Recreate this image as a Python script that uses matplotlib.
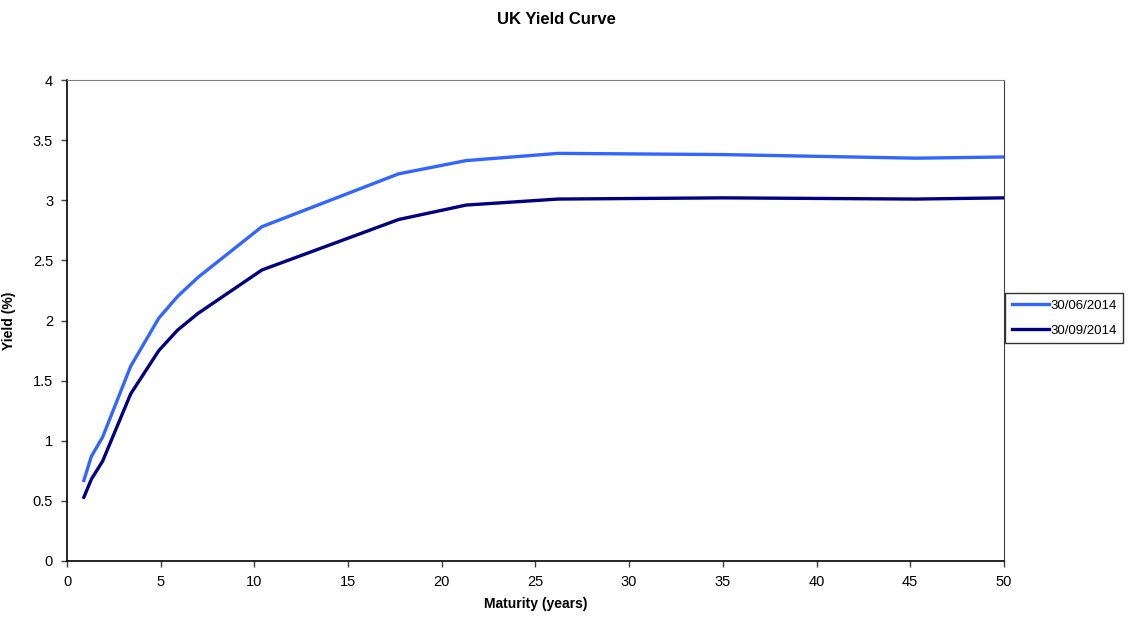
import matplotlib.pyplot as plt
import numpy as np

# UK gilt yield curve, two quarter-end snapshots
maturity_years = [0.9, 1.3, 1.9, 3.4, 4.9, 5.9, 7.0, 10.4, 17.7, 21.3, 26.2, 35.0, 45.3, 50.0]
yield_jun_2014 = [0.67, 0.87, 1.03, 1.62, 2.02, 2.20, 2.36, 2.78, 3.22, 3.33, 3.39, 3.38, 3.35, 3.36]
yield_sep_2014 = [0.53, 0.68, 0.83, 1.39, 1.75, 1.92, 2.06, 2.42, 2.84, 2.96, 3.01, 3.02, 3.01, 3.02]
series_labels = ['30/06/2014', '30/09/2014']

plt.rcParams['font.family'] = ['Liberation Sans', 'DejaVu Sans']

fig = plt.figure(figsize=(11.28, 6.17), dpi=100)
ax = fig.add_axes([0.0594, 0.0908, 0.8306, 0.7795])

ax.plot(maturity_years, yield_jun_2014, color='#3366FF', lw=2.4, label=series_labels[0])
ax.plot(maturity_years, yield_sep_2014, color='#000080', lw=2.4, label=series_labels[1])

ax.set_xlim(0, 50)
ax.set_ylim(0, 4)
ax.set_xticks(np.arange(0, 51, 5))
ax.set_yticks(np.arange(0, 4.01, 0.5))
ax.set_yticklabels(['0', '0.5', '1', '1.5', '2', '2.5', '3', '3.5', '4'])
ax.tick_params(direction='out', length=4, width=1, labelsize=10.5, color='#404040', pad=6)

for side in ['left', 'bottom']:
    ax.spines[side].set_color('black')
    ax.spines[side].set_linewidth(1.2)
ax.spines['top'].set_color('#808080')
ax.spines['right'].set_color('#404040')

fig.text(0.4935, 0.969, 'UK Yield Curve', fontsize=12, fontweight='bold', ha='center', va='center')
ax.set_xlabel('Maturity (years)', fontsize=10, fontweight='bold', labelpad=6)
ax.set_ylabel('Yield (%)', fontsize=10, fontweight='bold', labelpad=12)

leg = ax.legend(loc='center left', bbox_to_anchor=(1.0, 0.505), fontsize=9.5,
                frameon=True, fancybox=False, edgecolor='black', borderpad=0.5,
                handlelength=2.8, handletextpad=0.1, labelspacing=0.95, borderaxespad=0.1)
leg.get_frame().set_linewidth(1.0)

fig.savefig('out.png', dpi=100)
